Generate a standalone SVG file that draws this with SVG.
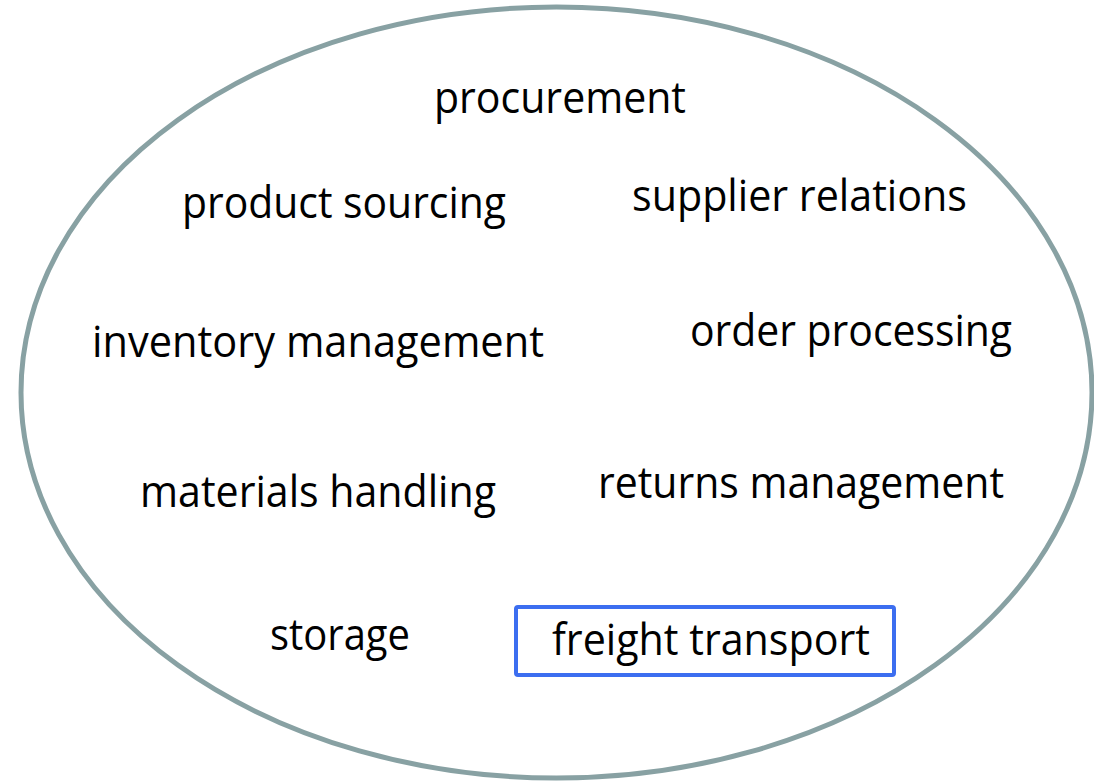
<svg xmlns="http://www.w3.org/2000/svg" width="1094" height="782" viewBox="0 0 1094 782">
<style>
.lbl{font-family:"Open Sans","Liberation Sans",sans-serif;font-size:43px;fill:#000}
.boundary{fill:#fff;stroke:#88A1A3;stroke-width:5}
.hl{fill:none;stroke:#3C6EF0;stroke-width:4}
</style>
<rect width="1094" height="782" fill="#fff"/>
<g id="boundary"><ellipse class="boundary" cx="556.5" cy="392.5" rx="535.5" ry="385.5"/></g>
<g id="connectors"></g>
<g id="procurement"><text class="lbl" x="434" y="113" textLength="252" lengthAdjust="spacingAndGlyphs">procurement</text></g>
<g id="product-sourcing"><text class="lbl" x="182" y="218" textLength="324" lengthAdjust="spacingAndGlyphs">product sourcing</text></g>
<g id="supplier-relations"><text class="lbl" x="632" y="211" textLength="335" lengthAdjust="spacingAndGlyphs">supplier relations</text></g>
<g id="inventory-management"><text class="lbl" x="92" y="357" textLength="452" lengthAdjust="spacingAndGlyphs">inventory management</text></g>
<g id="order-processing"><text class="lbl" x="690" y="346" textLength="322" lengthAdjust="spacingAndGlyphs">order processing</text></g>
<g id="materials-handling"><text class="lbl" x="140" y="507" textLength="356" lengthAdjust="spacingAndGlyphs">materials handling</text></g>
<g id="returns-management"><text class="lbl" x="598" y="498" textLength="406" lengthAdjust="spacingAndGlyphs">returns management</text></g>
<g id="storage"><text class="lbl" x="270" y="650" textLength="140" lengthAdjust="spacingAndGlyphs">storage</text></g>
<g id="freight-transport"><rect class="hl" x="516" y="607" width="378" height="68" rx="2"/><text class="lbl" x="552" y="655" textLength="318" lengthAdjust="spacingAndGlyphs">freight transport</text></g>
</svg>
